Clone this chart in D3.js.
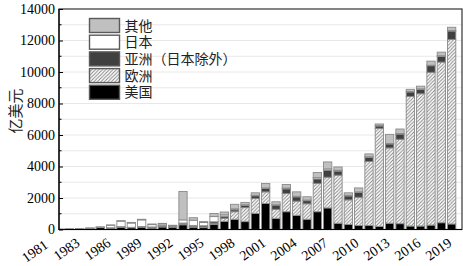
<!DOCTYPE html>
<html><head><meta charset="utf-8">
<script src="https://cdn.jsdelivr.net/npm/d3@7"></script>
<style>body{margin:0;background:#fff}svg{display:block}</style>
</head><body>
<svg id="c" width="463" height="266"></svg>
<script>
const years = [1981,1982,1983,1984,1985,1986,1987,1988,1989,1990,1991,1992,1993,1994,1995,1996,1997,1998,1999,2000,2001,2002,2003,2004,2005,2006,2007,2008,2009,2010,2011,2012,2013,2014,2015,2016,2017,2018,2019];
const usa    = [10,20,30,60,120,90,150,110,150,90,160,150,300,150,120,330,520,650,500,1020,1650,710,1130,900,650,1130,1370,400,320,250,260,200,400,370,220,220,280,430,350];
const europe = [5,5,5,10,10,10,20,20,30,50,30,20,50,50,40,60,200,480,890,950,740,570,1150,900,980,1800,1950,3050,1560,1800,4060,6220,4780,5360,8230,8400,9700,10200,11720];
const asia   = [0,0,0,0,5,10,10,10,10,20,60,50,60,60,80,100,120,120,150,170,220,270,300,270,200,280,450,260,250,300,270,150,250,330,280,280,420,370,530];
const japan  = [5,10,15,20,20,160,350,270,420,150,100,30,200,330,200,330,90,60,30,30,30,20,50,40,40,80,80,50,40,40,30,30,30,30,30,30,30,30,30];
const other  = [0,0,0,5,5,20,30,40,40,40,40,20,1800,160,60,200,180,290,150,160,280,190,230,280,210,330,440,210,160,250,180,100,580,290,140,170,260,230,210];
const seriesNames = ["美国","欧洲","亚洲（日本除外）","日本","其他"];
const xTickLabels = [1981,1983,1986,1989,1992,1995,1998,2001,2004,2007,2010,2013,2016,2019];
const yTicks = [0,2000,4000,6000,8000,10000,12000,14000];
const yMinor = [1000,3000,5000,7000,9000,11000,13000];

const svg = d3.select("#c");
const serif = "'Liberation Serif','Times New Roman',serif";
const cjk = "'Liberation Serif','Noto Sans CJK SC',sans-serif";

const defs = svg.append("defs");
const pat = defs.append("pattern").attr("id","hatch").attr("patternUnits","userSpaceOnUse")
  .attr("width",3.5).attr("height",3.5);
pat.append("rect").attr("width",3.5).attr("height",3.5).attr("fill","#fff");
pat.append("path").attr("d","M-1,1 l2,-2 M0,3.5 l3.5,-3.5 M2.5,4.5 l2,-2")
  .attr("stroke","#808080").attr("stroke-width",0.9);

const fills = {"美国":"#000","欧洲":"url(#hatch)","亚洲（日本除外）":"#404040","日本":"#fff","其他":"#c0c0c0"};

const x = d3.scaleLinear().domain([1981,2020]).range([59,462]);
const y = d3.scaleLinear().domain([0,14000]).range([229.5,9]);

// gridlines
svg.append("g").selectAll("line").data(d3.merge([yTicks.slice(1,-1),yMinor])).join("line")
  .attr("x1",59).attr("x2",462).attr("y1",d=>y(d)).attr("y2",d=>y(d))
  .attr("stroke","#e8e8e8").attr("stroke-width",1);

// stacked data
const table = years.map((yr,i)=>({year:yr,"美国":usa[i],"欧洲":europe[i],"亚洲（日本除外）":asia[i],"日本":japan[i],"其他":other[i]}));
const stacked = d3.stack().keys(seriesNames)(table);
const bw = (x(1982)-x(1981))*0.8;

const plot = svg.append("g");
plot.selectAll("g").data(stacked).join("g")
  .attr("fill",d=>fills[d.key])
  .selectAll("rect").data(d=>d).join("rect")
  .attr("x",d=>x(d.data.year)-bw/2).attr("width",bw)
  .attr("y",d=>y(d[1])).attr("height",d=>Math.max(0,y(d[0])-y(d[1])))
  .attr("stroke","#8a8a8a").attr("stroke-width",0.9);

// cover bars spilling left of axis
svg.append("rect").attr("x",0).attr("y",0).attr("width",58.5).attr("height",232).attr("fill","#fff");

// frame
svg.append("rect").attr("x",59).attr("y",9).attr("width",403).attr("height",220.5)
  .attr("fill","none").attr("stroke","#333").attr("stroke-width",1.2);
svg.append("line").attr("x1",59).attr("x2",59).attr("y1",9).attr("y2",230).attr("stroke","#000").attr("stroke-width",1.2);
svg.append("line").attr("x1",59).attr("x2",462).attr("y1",229.5).attr("y2",229.5).attr("stroke","#000").attr("stroke-width",1.2);

// y axis
const yAxis = svg.append("g").attr("transform","translate(59,0)")
  .call(d3.axisLeft(y).tickValues(yTicks).tickSize(-4).tickPadding(4).tickFormat(d3.format("d")));
yAxis.select(".domain").remove();
yAxis.selectAll("text").attr("font-family",serif).attr("font-size",14).attr("fill","#000");
yAxis.selectAll("line").attr("stroke","#000");
svg.append("g").selectAll("line").data(yMinor).join("line")
  .attr("x1",59).attr("x2",61.5).attr("y1",d=>y(d)).attr("y2",d=>y(d)).attr("stroke","#000");

// x labels (first label sits left of the axis in the original)
svg.append("g").selectAll("text").data(xTickLabels).join("text")
  .attr("transform",(d,i)=>`translate(${x(d)+(i===0?-10:1)},${i===0?247:245}) rotate(-35)`)
  .attr("text-anchor","end").attr("font-family",serif).attr("font-size",14).attr("fill","#000")
  .text(d=>d);

// y title
svg.append("text").attr("transform","translate(20.5,111) rotate(-90)")
  .attr("text-anchor","middle").attr("font-family",cjk).attr("font-size",15).attr("fill","#222")
  .text("亿美元");

// legend
const legendOrder = seriesNames.slice().reverse();
const lg = svg.append("g").selectAll("g").data(legendOrder).join("g")
  .attr("transform",(d,i)=>`translate(89.5,${18.5+i*16.7})`);
lg.append("rect").attr("width",30).attr("height",14).attr("fill",d=>fills[d])
  .attr("stroke","#5a5a5a").attr("stroke-width",1.4);
lg.append("text").attr("x",35).attr("y",7).attr("dy","0.36em")
  .attr("font-family",cjk).attr("font-size",14).attr("fill","#222").text(d=>d);
</script>
</body></html>
